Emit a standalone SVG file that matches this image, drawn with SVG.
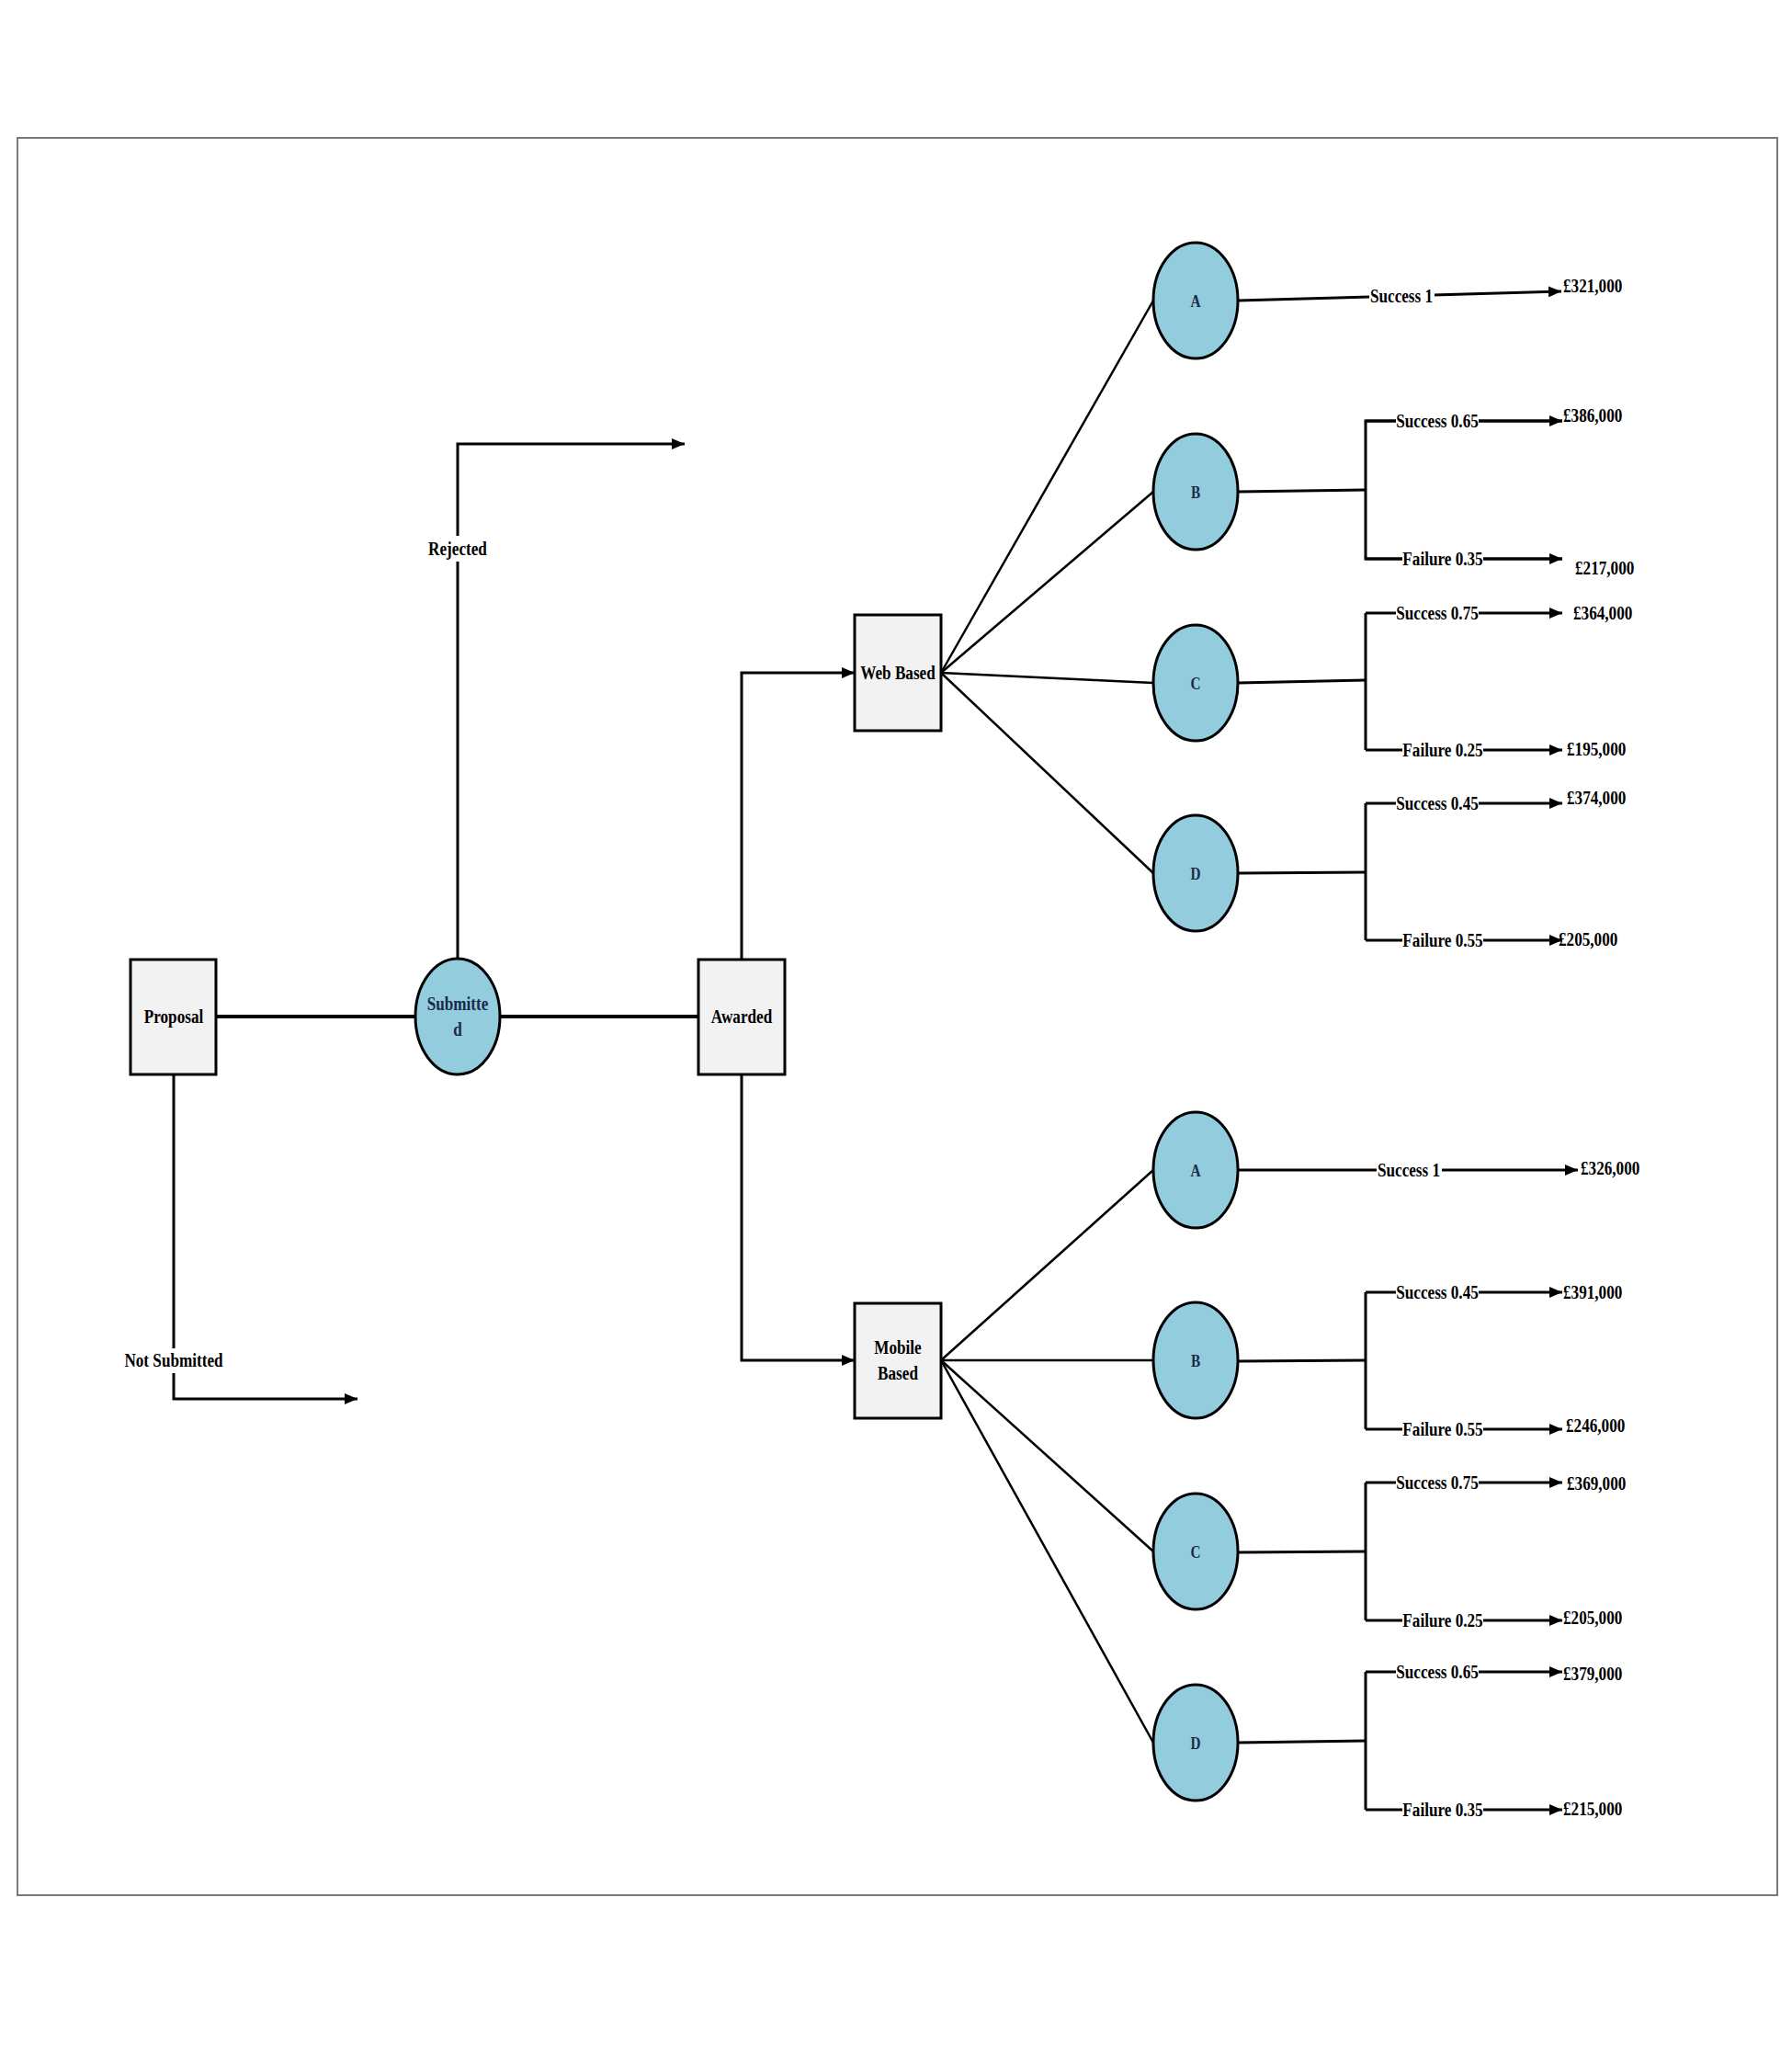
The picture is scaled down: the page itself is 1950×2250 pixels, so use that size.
<svg xmlns="http://www.w3.org/2000/svg" width="1950" height="2250" viewBox="0 0 1950 2250">
<style>
.bg{fill:#ffffff}
.frame{fill:none;stroke:#7a7a7a;stroke-width:2}
.box{fill:#f2f2f2;stroke:#000;stroke-width:3}
.chance{fill:#93cddd;stroke:#000;stroke-width:3}
.ln{fill:none;stroke:#000;stroke-width:3}
.fan{fill:none;stroke:#000;stroke-width:2.5}
.arr{fill:none;stroke:#000;stroke-width:3;marker-end:url(#ah)}
.lbg{fill:#ffffff}
.t{font-family:"Liberation Serif","Times New Roman",serif;font-weight:bold;font-size:22px;fill:#000}
.tc{text-anchor:middle}
.ts{text-anchor:start}
.tn{font-family:"Liberation Serif","Times New Roman",serif;font-weight:bold;font-size:18px;fill:#1b2a4a;text-anchor:middle}
.tsub{font-family:"Liberation Serif","Times New Roman",serif;font-weight:bold;font-size:22px;fill:#1b2a4a;text-anchor:middle}
</style>
<defs>
<marker id="ah" markerUnits="userSpaceOnUse" markerWidth="14" markerHeight="12" refX="14" refY="6" orient="auto">
<path d="M0,0 L14,6 L0,12 z" fill="#000"/>
</marker>
</defs>
<rect class="bg" x="0" y="0" width="1950" height="2250"/>
<rect class="frame" x="19" y="150" width="1915" height="1912"/>

<g id="connectors">
<!-- main spine -->
<line class="ln" x1="235" y1="1106" x2="452" y2="1106" style="stroke-width:4"/>
<line class="ln" x1="544" y1="1106" x2="760" y2="1106" style="stroke-width:4"/>
<!-- rejected -->
<polyline class="arr" points="498,1043 498,483 745,483"/>
<!-- not submitted -->
<polyline class="arr" points="189,1169 189,1522 389,1522"/>
<!-- awarded to web/mobile -->
<polyline class="arr" points="807,1044 807,732 930,732"/>
<polyline class="arr" points="807,1169 807,1480 930,1480"/>
<!-- web fan -->
<line class="fan" x1="1024" y1="732" x2="1255" y2="327"/>
<line class="fan" x1="1024" y1="732" x2="1255" y2="535"/>
<line class="fan" x1="1024" y1="732" x2="1255" y2="743"/>
<line class="fan" x1="1024" y1="732" x2="1255" y2="950"/>
<!-- mobile fan -->
<line class="fan" x1="1024" y1="1480" x2="1255" y2="1273"/>
<line class="fan" x1="1024" y1="1480" x2="1255" y2="1480"/>
<line class="fan" x1="1024" y1="1480" x2="1255" y2="1688"/>
<line class="fan" x1="1024" y1="1480" x2="1255" y2="1896"/>
<!-- web A -->
<line class="arr" x1="1347" y1="327" x2="1699" y2="317"/>
<!-- web B -->
<line class="ln" x1="1347" y1="535" x2="1486" y2="533"/>
<polyline class="arr" points="1700,458 1486,458 1486,608 1700,608" style="marker-end:none"/>
<line class="arr" x1="1486" y1="458" x2="1700" y2="458"/>
<line class="arr" x1="1486" y1="608" x2="1700" y2="608"/>
<!-- web C -->
<line class="ln" x1="1347" y1="743" x2="1486" y2="740"/>
<line class="ln" x1="1486" y1="667" x2="1486" y2="816"/>
<line class="arr" x1="1486" y1="667" x2="1700" y2="667"/>
<line class="arr" x1="1486" y1="816" x2="1700" y2="816"/>
<!-- web D -->
<line class="ln" x1="1347" y1="950" x2="1486" y2="949"/>
<line class="ln" x1="1486" y1="874" x2="1486" y2="1023"/>
<line class="arr" x1="1486" y1="874" x2="1700" y2="874"/>
<line class="arr" x1="1486" y1="1023" x2="1700" y2="1023"/>
<!-- mobile A -->
<line class="arr" x1="1347" y1="1273" x2="1717" y2="1273"/>
<!-- mobile B -->
<line class="ln" x1="1347" y1="1481" x2="1486" y2="1480"/>
<line class="ln" x1="1486" y1="1406" x2="1486" y2="1555"/>
<line class="arr" x1="1486" y1="1406" x2="1700" y2="1406"/>
<line class="arr" x1="1486" y1="1555" x2="1700" y2="1555"/>
<!-- mobile C -->
<line class="ln" x1="1347" y1="1689" x2="1486" y2="1688"/>
<line class="ln" x1="1486" y1="1613" x2="1486" y2="1763"/>
<line class="arr" x1="1486" y1="1613" x2="1700" y2="1613"/>
<line class="arr" x1="1486" y1="1763" x2="1700" y2="1763"/>
<!-- mobile D -->
<line class="ln" x1="1347" y1="1896" x2="1486" y2="1894"/>
<line class="ln" x1="1486" y1="1819" x2="1486" y2="1969"/>
<line class="arr" x1="1486" y1="1819" x2="1700" y2="1819"/>
<line class="arr" x1="1486" y1="1969" x2="1700" y2="1969"/>
</g>

<g id="edge-labels">
<rect class="lbg" x="465" y="583" width="66" height="28"/>
<text class="t tc" transform="translate(498,604) scale(0.78,1)">Rejected</text>
<rect class="lbg" x="135" y="1467" width="108" height="27"/>
<text class="t tc" transform="translate(189,1487) scale(0.78,1)">Not Submitted</text>

<rect class="lbg" x="1490" y="310" width="71" height="22"/>
<text class="t tc" transform="translate(1525,329) scale(0.78,1)">Success 1</text>
<rect class="lbg" x="1519" y="446" width="90" height="22"/>
<text class="t tc" transform="translate(1564,465) scale(0.78,1)">Success 0.65</text>
<rect class="lbg" x="1526" y="596" width="88" height="22"/>
<text class="t tc" transform="translate(1570,615) scale(0.78,1)">Failure 0.35</text>
<rect class="lbg" x="1519" y="655" width="90" height="22"/>
<text class="t tc" transform="translate(1564,674) scale(0.78,1)">Success 0.75</text>
<rect class="lbg" x="1526" y="804" width="88" height="22"/>
<text class="t tc" transform="translate(1570,823) scale(0.78,1)">Failure 0.25</text>
<rect class="lbg" x="1519" y="862" width="90" height="22"/>
<text class="t tc" transform="translate(1564,881) scale(0.78,1)">Success 0.45</text>
<rect class="lbg" x="1526" y="1011" width="88" height="22"/>
<text class="t tc" transform="translate(1570,1030) scale(0.78,1)">Failure 0.55</text>

<rect class="lbg" x="1498" y="1261" width="71" height="22"/>
<text class="t tc" transform="translate(1533,1280) scale(0.78,1)">Success 1</text>
<rect class="lbg" x="1519" y="1394" width="90" height="22"/>
<text class="t tc" transform="translate(1564,1413) scale(0.78,1)">Success 0.45</text>
<rect class="lbg" x="1526" y="1543" width="88" height="22"/>
<text class="t tc" transform="translate(1570,1562) scale(0.78,1)">Failure 0.55</text>
<rect class="lbg" x="1519" y="1601" width="90" height="22"/>
<text class="t tc" transform="translate(1564,1620) scale(0.78,1)">Success 0.75</text>
<rect class="lbg" x="1526" y="1751" width="88" height="22"/>
<text class="t tc" transform="translate(1570,1770) scale(0.78,1)">Failure 0.25</text>
<rect class="lbg" x="1519" y="1807" width="90" height="22"/>
<text class="t tc" transform="translate(1564,1826) scale(0.78,1)">Success 0.65</text>
<rect class="lbg" x="1526" y="1957" width="88" height="22"/>
<text class="t tc" transform="translate(1570,1976) scale(0.78,1)">Failure 0.35</text>
</g>

<g id="payoffs">
<text class="t ts" transform="translate(1701,318) scale(0.78,1)">£321,000</text>
<text class="t ts" transform="translate(1701,459) scale(0.78,1)">£386,000</text>
<text class="t ts" transform="translate(1714,625) scale(0.78,1)">£217,000</text>
<text class="t ts" transform="translate(1712,674) scale(0.78,1)">£364,000</text>
<text class="t ts" transform="translate(1705,822) scale(0.78,1)">£195,000</text>
<text class="t ts" transform="translate(1705,875) scale(0.78,1)">£374,000</text>
<text class="t ts" transform="translate(1696,1029) scale(0.78,1)">£205,000</text>
<text class="t ts" transform="translate(1720,1278) scale(0.78,1)">£326,000</text>
<text class="t ts" transform="translate(1701,1413) scale(0.78,1)">£391,000</text>
<text class="t ts" transform="translate(1704,1558) scale(0.78,1)">£246,000</text>
<text class="t ts" transform="translate(1705,1621) scale(0.78,1)">£369,000</text>
<text class="t ts" transform="translate(1701,1767) scale(0.78,1)">£205,000</text>
<text class="t ts" transform="translate(1701,1828) scale(0.78,1)">£379,000</text>
<text class="t ts" transform="translate(1701,1975) scale(0.78,1)">£215,000</text>
</g>

<g id="node-proposal">
<rect class="box" x="142" y="1044" width="93" height="125"/>
<text class="t tc" transform="translate(189,1113) scale(0.78,1)">Proposal</text>
</g>
<g id="node-submitted">
<ellipse class="chance" cx="498" cy="1106" rx="46" ry="63"/>
<text class="tsub" transform="translate(498,1099) scale(0.78,1)">Submitte</text>
<text class="tsub" transform="translate(498,1127) scale(0.78,1)">d</text>
</g>
<g id="node-awarded">
<rect class="box" x="760" y="1044" width="94" height="125"/>
<text class="t tc" transform="translate(807,1113) scale(0.78,1)">Awarded</text>
</g>
<g id="node-web">
<rect class="box" x="930" y="669" width="94" height="126"/>
<text class="t tc" transform="translate(977,739) scale(0.78,1)">Web Based</text>
</g>
<g id="node-mobile">
<rect class="box" x="930" y="1418" width="94" height="125"/>
<text class="t tc" transform="translate(977,1473) scale(0.78,1)">Mobile</text>
<text class="t tc" transform="translate(977,1501) scale(0.78,1)">Based</text>
</g>
<g id="node-web-a">
<ellipse class="chance" cx="1301" cy="327" rx="46" ry="63"/>
<text class="tn" transform="translate(1301,334) scale(0.85,1)">A</text>
</g>
<g id="node-web-b">
<ellipse class="chance" cx="1301" cy="535" rx="46" ry="63"/>
<text class="tn" transform="translate(1301,542) scale(0.85,1)">B</text>
</g>
<g id="node-web-c">
<ellipse class="chance" cx="1301" cy="743" rx="46" ry="63"/>
<text class="tn" transform="translate(1301,750) scale(0.85,1)">C</text>
</g>
<g id="node-web-d">
<ellipse class="chance" cx="1301" cy="950" rx="46" ry="63"/>
<text class="tn" transform="translate(1301,957) scale(0.85,1)">D</text>
</g>
<g id="node-mobile-a">
<ellipse class="chance" cx="1301" cy="1273" rx="46" ry="63"/>
<text class="tn" transform="translate(1301,1280) scale(0.85,1)">A</text>
</g>
<g id="node-mobile-b">
<ellipse class="chance" cx="1301" cy="1480" rx="46" ry="63"/>
<text class="tn" transform="translate(1301,1487) scale(0.85,1)">B</text>
</g>
<g id="node-mobile-c">
<ellipse class="chance" cx="1301" cy="1688" rx="46" ry="63"/>
<text class="tn" transform="translate(1301,1695) scale(0.85,1)">C</text>
</g>
<g id="node-mobile-d">
<ellipse class="chance" cx="1301" cy="1896" rx="46" ry="63"/>
<text class="tn" transform="translate(1301,1903) scale(0.85,1)">D</text>
</g>
</svg>
